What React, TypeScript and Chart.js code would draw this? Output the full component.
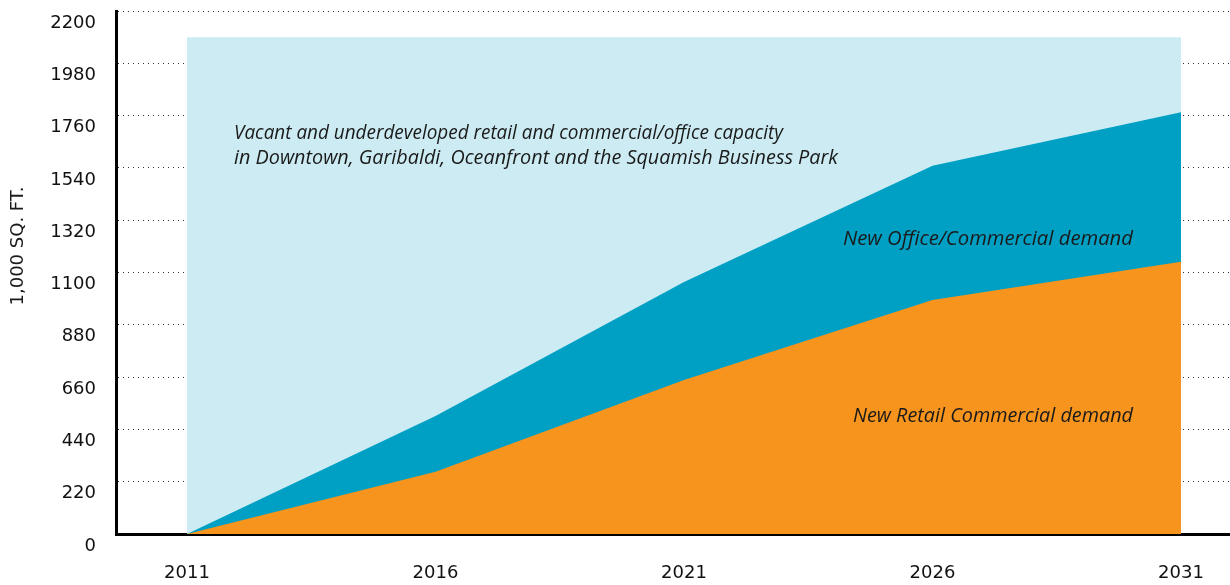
import React, { useEffect, useRef } from "react";
import { Chart, registerables } from "chart.js";

Chart.register(...registerables);

// ---- Data (values in 1,000 sq. ft.) ----
const years = [2011, 2016, 2021, 2026, 2031];
const retailDemand = [0, 262, 648, 984, 1145];
const officeDemand = [0, 234, 412, 565, 629];
const vacantCapacity = [2090, 2090, 2090, 2090, 2090];
const yTickStep = 220;
const yMax = 2200;

const yTitle = "1,000 SQ. FT.";
const capacityLabel = [
  "Vacant and underdeveloped retail and commercial/office capacity",
  "in Downtown, Garibaldi, Oceanfront and the Squamish Business Park",
];
const officeLabel = "New Office/Commercial demand";
const retailLabel = "New Retail Commercial demand";

const COLORS = {
  capacity: "#CCEBF2",
  office: "#00A0C4",
  retail: "#F7941E",
  text: "#1a1a1a",
};

function drawFitted(
  ctx: CanvasRenderingContext2D,
  text: string,
  x: number,
  y: number,
  targetWidth: number,
  align: "left" | "right"
) {
  const w = ctx.measureText(text).width;
  const sx = Math.max(0.85, Math.min(1.15, targetWidth / w));
  ctx.save();
  ctx.translate(x, y);
  ctx.scale(sx, 1);
  ctx.textAlign = align;
  ctx.fillText(text, 0, 0);
  ctx.restore();
}

export default function App() {
  const ref = useRef<HTMLCanvasElement | null>(null);

  useEffect(() => {
    if (!ref.current) return;
    const totalDemand = retailDemand.map((v, i) => v + officeDemand[i]);
    const pts = (arr: number[]) => years.map((x, i) => ({ x, y: arr[i] }));

    const annotations = {
      id: "annotations",
      afterDatasetsDraw(chart: any) {
        const ctx = chart.ctx as CanvasRenderingContext2D;
        ctx.save();
        ctx.fillStyle = COLORS.text;
        ctx.font = "italic 19.5px 'Open Sans'";
        ctx.textBaseline = "alphabetic";
        drawFitted(ctx, capacityLabel[0], 234, 139, 549, "left");
        drawFitted(ctx, capacityLabel[1], 234, 164, 604, "left");
        drawFitted(ctx, officeLabel, 1133, 245, 290, "right");
        drawFitted(ctx, retailLabel, 1133, 422, 280, "right");
        ctx.restore();
      },
      afterDraw(chart: any) {
        const ctx = chart.ctx as CanvasRenderingContext2D;
        ctx.save();
        ctx.translate(18.5, 246);
        ctx.rotate(-Math.PI / 2);
        ctx.fillStyle = COLORS.text;
        ctx.font = "18px 'DejaVu Sans'";
        ctx.textAlign = "center";
        ctx.textBaseline = "middle";
        ctx.fillText(yTitle, 0, 0);
        ctx.restore();
      },
    };

    const zeroPad = (s: any) => {
      s.paddingTop = 0;
      s.paddingBottom = 0;
      s.paddingLeft = 0;
      s.paddingRight = 0;
    };

    const chart = new Chart(ref.current, {
      type: "line",
      data: {
        datasets: [
          {
            label: retailLabel,
            data: pts(retailDemand),
            backgroundColor: COLORS.retail,
            borderWidth: 0,
            pointRadius: 0,
            fill: "origin",
            order: 1,
          },
          {
            label: officeLabel,
            data: pts(totalDemand),
            backgroundColor: COLORS.office,
            borderWidth: 0,
            pointRadius: 0,
            fill: "origin",
            order: 2,
          },
          {
            label: capacityLabel.join(" "),
            data: pts(vacantCapacity),
            backgroundColor: COLORS.capacity,
            borderWidth: 0,
            pointRadius: 0,
            fill: "origin",
            order: 3,
          },
        ],
      },
      options: {
        animation: false,
        responsive: true,
        maintainAspectRatio: false,
        layout: { padding: { top: 11, left: 0, right: 0, bottom: 0 } },
        plugins: {
          legend: { display: false },
          tooltip: { enabled: false },
        },
        elements: { line: { tension: 0 } },
        scales: {
          x: {
            type: "linear",
            min: 2009.571,
            max: 2031.986,
            grid: { display: true, drawOnChartArea: false, drawTicks: false },
            border: { display: true, color: "#000", width: 3 },
            ticks: {
              color: "#111",
              font: { family: "'DejaVu Sans'", size: 18 },
              padding: 29,
              autoSkip: false,
              maxRotation: 0,
              callback: (v: any) => String(v),
            },
            afterBuildTicks: (s: any) => {
              s.ticks = years.map((v) => ({ value: v }));
            },
            afterFit: (s: any) => {
              s.height = 51;
              zeroPad(s);
            },
          },
          y: {
            min: 0,
            max: yMax,
            grid: {
              color: "#333",
              lineWidth: 1,
              drawTicks: false,
            },
            border: { display: true, color: "#000", width: 3, dash: [1, 4], dashOffset: 0 },
            ticks: {
              stepSize: yTickStep,
              color: "#111",
              font: { family: "'DejaVu Sans'", size: 18 },
              padding: 20,
              labelOffset: 12,
              callback: (v: any) => String(v),
            },
            afterFit: (s: any) => {
              s.width = 116;
              zeroPad(s);
            },
          },
        },
      },
      plugins: [annotations],
    } as any);

    return () => chart.destroy();
  }, []);

  return (
    <div style={{ position: "absolute", left: 0, top: 0, width: 1230, height: 585 }}>
      <canvas ref={ref} />
    </div>
  );
}
